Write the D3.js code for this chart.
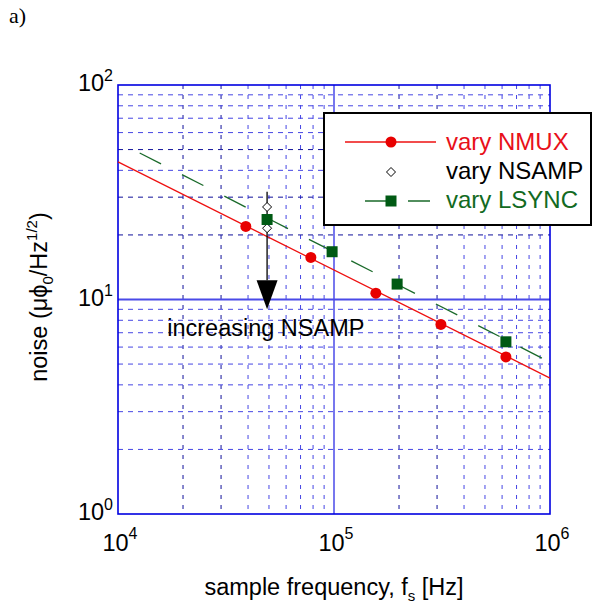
<!DOCTYPE html>
<html>
<head>
<meta charset="utf-8">
<script src="https://cdn.jsdelivr.net/npm/d3@7"></script>
<style>
  body { margin: 0; background: #fff; }
  text { font-family: "Liberation Sans", Arial, sans-serif; }
</style>
</head>
<body>
<svg width="594" height="611"></svg>
<script>
// vary NMUX (red circles) and its fit line
var nmuxFreq = [39062, 78125, 156250, 312500, 625000];
var nmuxNoise = [21.9, 15.7, 10.7, 7.65, 5.4];
var nmuxFitFreq = [1e4, 1e6];
var nmuxFitNoise = [43.8, 4.3];

// vary NSAMP (open diamonds)
var nsampFreq = [49000, 49000];
var nsampNoise = [27.0, 21.5];

// vary LSYNC (green squares) and its dashed fit line
var lsyncFreq = [49000, 98000, 196000, 625000];
var lsyncNoise = [23.6, 16.7, 11.8, 6.35];
var lsyncFitFreq = [12600, 1e6];
var lsyncFitNoise = [48.2, 5.1];

// arrow annotation (frequency, noise)
var arrowFreq = 49000;
var arrowTop = 31.8, arrowHead = 12.3, arrowTip = 9.0;

var xTicks = [1e4, 1e5, 1e6];
var yTicks = [1, 10, 100];

var svg = d3.select("svg");
var x = d3.scaleLog().domain([1e4, 1e6]).range([118, 550]);
var y = d3.scaleLog().domain([1, 100]).range([514, 85]);

var darkBlue = "#10109a", lightBlue = "#4646e4";

// minor grid
var minorX = [], minorY = [];
[1e4, 1e5].forEach(function(d) { for (var k = 2; k <= 9; k++) minorX.push(d * k); });
[1, 10].forEach(function(d) { for (var k = 2; k <= 9; k++) minorY.push(d * k); });
var darkX = [2, 3], darkY = [2, 3, 5];
function mant(d) { return Math.round(d / Math.pow(10, Math.floor(Math.log10(d) + 1e-9))); }

var grid = svg.append("g");
grid.selectAll(".vx").data(minorX).enter().append("line")
  .attr("x1", d => x(d)).attr("x2", d => x(d))
  .attr("y1", y(100)).attr("y2", y(1))
  .attr("stroke", d => darkX.indexOf(mant(d)) >= 0 ? darkBlue : lightBlue)
  .attr("stroke-width", 1)
  .attr("stroke-dasharray", "4,6");
grid.selectAll(".hy").data(minorY).enter().append("line")
  .attr("y1", d => y(d)).attr("y2", d => y(d))
  .attr("x1", x(1e4)).attr("x2", x(1e6))
  .attr("stroke", d => darkY.indexOf(mant(d)) >= 0 && d > 10 ? darkBlue : lightBlue)
  .attr("stroke-width", 1)
  .attr("stroke-dasharray", "5,5");

// major grid
grid.append("line").attr("x1", x(1e5)).attr("x2", x(1e5)).attr("y1", y(100)).attr("y2", y(1))
  .attr("stroke", "#4a4ae8").attr("stroke-width", 1.5);
grid.append("line").attr("y1", y(10)).attr("y2", y(10)).attr("x1", x(1e4)).attr("x2", x(1e6))
  .attr("stroke", "#4a4ae8").attr("stroke-width", 1.8);

// frame
svg.append("rect").attr("x", x(1e4)).attr("y", y(100))
  .attr("width", x(1e6) - x(1e4)).attr("height", y(1) - y(100))
  .attr("fill", "none").attr("stroke", "#0000e0").attr("stroke-width", 1.6);

var line = d3.line().x(d => x(d[0])).y(d => y(d[1]));

// NMUX fit
svg.append("path").datum(d3.zip(nmuxFitFreq, nmuxFitNoise))
  .attr("d", line).attr("fill", "none").attr("stroke", "#ee1111").attr("stroke-width", 1.3);
// LSYNC fit
svg.append("path").datum(d3.zip(lsyncFitFreq, lsyncFitNoise))
  .attr("d", line).attr("fill", "none").attr("stroke", "#1a6a2a").attr("stroke-width", 1.3)
  .attr("stroke-dasharray", "24,23.5");

// arrow
svg.append("line").attr("x1", x(arrowFreq)).attr("x2", x(arrowFreq))
  .attr("y1", y(arrowTop)).attr("y2", y(arrowHead))
  .attr("stroke", "#000").attr("stroke-width", 1.3);
svg.append("path")
  .attr("d", "M" + (x(arrowFreq) - 10.5) + "," + y(arrowHead) + "L" + (x(arrowFreq) + 10.5) + "," + y(arrowHead) +
             "L" + x(arrowFreq) + "," + y(arrowTip) + "Z")
  .attr("fill", "#000");

// NMUX points
svg.selectAll(".nmux").data(d3.zip(nmuxFreq, nmuxNoise)).enter().append("circle")
  .attr("cx", d => x(d[0])).attr("cy", d => y(d[1])).attr("r", 5.5)
  .attr("fill", "#e80000");
// NSAMP diamonds
svg.selectAll(".nsamp").data(d3.zip(nsampFreq, nsampNoise)).enter().append("path")
  .attr("d", d => "M" + x(d[0]) + "," + (y(d[1]) - 4.5) + "l4.5,4.5l-4.5,4.5l-4.5,-4.5Z")
  .attr("fill", "#fff").attr("stroke", "#000").attr("stroke-width", 1);
// LSYNC squares
svg.selectAll(".lsync").data(d3.zip(lsyncFreq, lsyncNoise)).enter().append("rect")
  .attr("x", d => x(d[0]) - 5.5).attr("y", d => y(d[1]) - 5.5)
  .attr("width", 11).attr("height", 11).attr("fill", "#005a14");

// annotation text
svg.append("text").attr("x", x(16900)).attr("y", y(6.73))
  .attr("font-size", 23.5).attr("fill", "#000").text("increasing NSAMP");

// tick labels
var yl = svg.append("g").selectAll("text").data(yTicks).enter().append("text")
  .attr("x", 113).attr("y", d => y(d) + 6).attr("text-anchor", "end")
  .attr("font-size", 23.5).attr("fill", "#000");
yl.append("tspan").text("10");
yl.append("tspan").attr("font-size", 16).attr("dy", -10).text(d => Math.round(Math.log10(d)));

var xl = svg.append("g").selectAll("text").data(xTicks).enter().append("text")
  .attr("x", d => x(d) + 2).attr("y", 551).attr("text-anchor", "middle")
  .attr("font-size", 23.5).attr("fill", "#000");
xl.append("tspan").text("10");
xl.append("tspan").attr("font-size", 16).attr("dy", -12).text(d => Math.round(Math.log10(d)));

// axis titles
var xt = svg.append("text").attr("x", 334).attr("y", 595).attr("text-anchor", "middle")
  .attr("font-size", 23.5).attr("fill", "#000");
xt.append("tspan").text("sample frequency, f");
xt.append("tspan").attr("font-size", 15).attr("dy", 6).text("s");
xt.append("tspan").attr("dy", -6).text(" [Hz]");

var yt = svg.append("text").attr("transform", "translate(47,297) rotate(-90)")
  .attr("text-anchor", "middle").attr("font-size", 23.5).attr("fill", "#000");
yt.append("tspan").text("noise (\u03bc\u03d5");
yt.append("tspan").attr("font-size", 15).attr("dy", 6).text("0");
yt.append("tspan").attr("dy", -6).text("/Hz");
yt.append("tspan").attr("font-size", 15).attr("dy", -10).text("1/2");
yt.append("tspan").attr("dy", 10).text(")");

// panel label
svg.append("text").attr("x", 9).attr("y", 23).attr("font-size", 22)
  .style("font-family", "'Liberation Serif', 'Times New Roman', serif").text("a)");

// legend
var lg = svg.append("g");
lg.append("rect").attr("x", 324).attr("y", 113).attr("width", 267).attr("height", 112)
  .attr("fill", "#fff").attr("stroke", "#000").attr("stroke-width", 2);
lg.append("line").attr("x1", 345).attr("x2", 436).attr("y1", 142).attr("y2", 142)
  .attr("stroke", "#ee1111").attr("stroke-width", 1.3);
lg.append("circle").attr("cx", 391).attr("cy", 142).attr("r", 5.5).attr("fill", "#e80000");
lg.append("text").attr("x", 446).attr("y", 150).attr("font-size", 24).attr("fill", "#e8101a").text("vary NMUX");
lg.append("path").attr("d", "M391,167.5l4.5,4.5l-4.5,4.5l-4.5,-4.5Z")
  .attr("fill", "#fff").attr("stroke", "#000").attr("stroke-width", 1);
lg.append("text").attr("x", 446).attr("y", 179).attr("font-size", 24).attr("fill", "#000").text("vary NSAMP");
lg.append("line").attr("x1", 365).attr("x2", 430).attr("y1", 201).attr("y2", 201)
  .attr("stroke", "#1a6a2a").attr("stroke-width", 1.3).attr("stroke-dasharray", "22,21");
lg.append("rect").attr("x", 385.5).attr("y", 195.5).attr("width", 11).attr("height", 11).attr("fill", "#005a14");
lg.append("text").attr("x", 446).attr("y", 208).attr("font-size", 24).attr("fill", "#126a22").text("vary LSYNC");
</script>
</body>
</html>
